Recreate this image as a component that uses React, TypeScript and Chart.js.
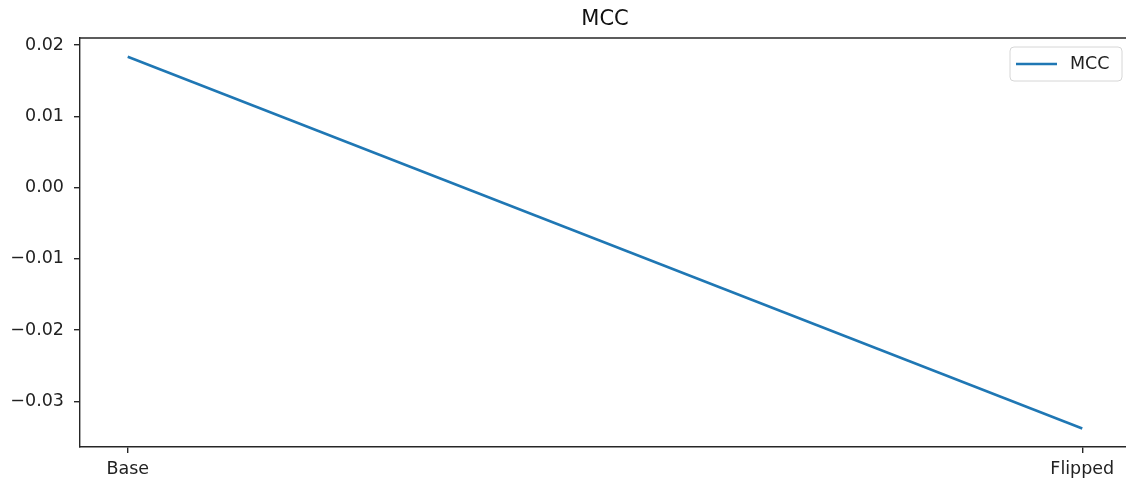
import React, { useEffect, useRef } from "react";
import { Chart, registerables } from "chart.js";

Chart.register(...registerables);

const categories = ["Base", "Flipped"];
const mccValues = [0.01837, -0.0338];
const yTickValues = [-0.03, -0.02, -0.01, 0.0, 0.01, 0.02];
const seriesLabel = "MCC";
const chartTitle = "MCC";

const FONT = "'DejaVu Sans', sans-serif";
const LINE_COLOR = "#1f77b4";
const SPINE = "#262626";

export default function App() {
  const ref = useRef<HTMLCanvasElement | null>(null);

  useEffect(() => {
    if (!ref.current) return;
    const overlay = {
      id: "overlay",
      afterDraw(chart: any) {
        const { ctx, chartArea } = chart;
        ctx.save();
        // top spine
        ctx.strokeStyle = SPINE;
        ctx.lineWidth = 1.4;
        ctx.beginPath();
        ctx.moveTo(chartArea.left, chartArea.top);
        ctx.lineTo(chartArea.right, chartArea.top);
        ctx.stroke();
        // title
        ctx.fillStyle = "#111";
        ctx.font = `21px ${FONT}`;
        ctx.textAlign = "center";
        ctx.textBaseline = "middle";
        ctx.fillText(chartTitle, (chartArea.left + chartArea.right) / 2, 20);
        // legend
        const bx = 1010, by = 47, bw = 112, bh = 34, r = 4;
        ctx.globalAlpha = 0.8;
        ctx.fillStyle = "#fff";
        ctx.beginPath();
        ctx.roundRect(bx, by, bw, bh, r);
        ctx.fill();
        ctx.globalAlpha = 1;
        ctx.strokeStyle = "#d6d6d6";
        ctx.lineWidth = 1;
        ctx.stroke();
        ctx.strokeStyle = LINE_COLOR;
        ctx.lineWidth = 2.5;
        ctx.beginPath();
        ctx.moveTo(1016, 64);
        ctx.lineTo(1057, 64);
        ctx.stroke();
        ctx.fillStyle = "#222";
        ctx.font = `17.5px ${FONT}`;
        ctx.textAlign = "left";
        ctx.textBaseline = "middle";
        ctx.fillText(seriesLabel, 1070, 64);
        ctx.restore();
      },
    };

    const chart = new Chart(ref.current, {
      type: "line",
      data: {
        datasets: [
          {
            label: seriesLabel,
            data: categories.map((_, i) => ({ x: i, y: mccValues[i] })),
            borderColor: LINE_COLOR,
            backgroundColor: LINE_COLOR,
            borderWidth: 2.5,
            pointRadius: 0,
            tension: 0,
          },
        ],
      },
      options: {
        animation: false,
        responsive: false,
        maintainAspectRatio: false,
        layout: { padding: { left: 0, right: 10, top: 38, bottom: 0 } },
        plugins: {
          legend: { display: false },
          title: { display: false },
          tooltip: { enabled: false },
        },
        scales: {
          x: {
            type: "linear",
            min: -0.05,
            max: 1.05,
            afterBuildTicks: (scale: any) => {
              scale.ticks = categories.map((_, i) => ({ value: i }));
            },
            afterFit: (scale: any) => {
              scale.height = 35;
            },
            ticks: {
              autoSkip: false,
              maxRotation: 0,
              padding: 6,
              color: "#222",
              font: { family: FONT, size: 17.5 },
              callback: (v: any) => categories[Math.round(Number(v))] ?? "",
            },
            grid: {
              display: true,
              drawOnChartArea: false,
              drawTicks: true,
              tickLength: 6,
              color: SPINE,
              lineWidth: 1.4,
            },
            border: { display: true, color: SPINE, width: 1.4 },
          },
          y: {
            type: "linear",
            min: -0.0364,
            max: 0.021,
            afterBuildTicks: (scale: any) => {
              scale.ticks = yTickValues.map((v) => ({ value: v }));
            },
            afterFit: (scale: any) => {
              scale.width = 80;
            },
            ticks: {
              padding: 10,
              color: "#222",
              font: { family: FONT, size: 17.5 },
              callback: (v: any) => {
                const n = Number(v);
                const s = Math.abs(n).toFixed(2);
                return n < -1e-9 ? "\u2212" + s : s;
              },
            },
            grid: {
              display: true,
              drawOnChartArea: false,
              drawTicks: true,
              tickLength: 6,
              color: SPINE,
              lineWidth: 1.4,
            },
            border: { display: true, color: SPINE, width: 1.4 },
          },
        },
      },
      plugins: [overlay],
    });
    return () => chart.destroy();
  }, []);

  return (
    <div style={{ position: "fixed", left: 0, top: 0, width: 1140, height: 482, background: "#fff" }}>
      <canvas ref={ref} width={1140} height={482} style={{ display: "block", width: 1140, height: 482 }} />
    </div>
  );
}
